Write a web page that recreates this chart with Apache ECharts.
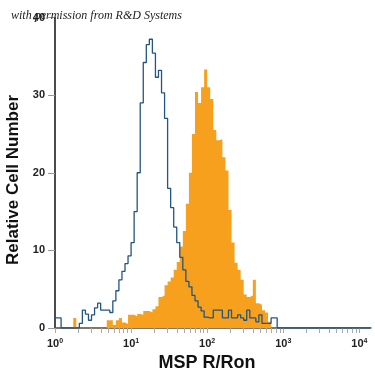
<!DOCTYPE html>
<html><head><meta charset="utf-8">
<script src="https://cdn.jsdelivr.net/npm/echarts@6/dist/echarts.min.js"></script>
<style>html,body{margin:0;padding:0;background:#fff}#c{width:375px;height:375px}</style>
</head><body><div id="c"></div>
<script>
// Histogram bins, width in decades of log10 intensity, starting at 10^0
const binWidth = 0.04;
// Isotype control (blue outline)
const isotypeCounts = [
 1.3,1.3,0,0,0,0,0,0,0.6,2.3,
 1.8,1.0,1.7,2.6,3.2,2.3,2.3,2.3,2.0,3.5,
 4.8,6.2,7.3,8.3,9.3,11,15,20,29,34.2,
 36.5,37.2,35.4,32.3,33.2,30.3,27,18,15.5,13,
 11,9.1,7.5,6,5.3,4.2,3.5,2.7,2.2,1.4,
 1.3,1.3,2.3,2.3,2.3,1.3,1.3,2.3,1.3,1.3,
 1.7,1.3,1.0,2.3,1.3,1.3,0.8,1.7,0.6,0.6,
 0.6,1.3,1.3,0,0,0,0,0,0,0,
 0,0,0,0,0,0,0,0,0,0,
 0,0,0,0,0,0,0,0,0,0,
 0,0,0,0
];
// MSP R/Ron stained (orange filled)
const stainedCounts = [
 0,0,0,0,0,0,1.3,0,0,0,
 0,0,0,0,0,0,0,1.0,1.0,0.4,
 1.0,1.3,0.7,0.5,1.7,1.7,1.5,1.8,1.7,2.2,
 2.2,2.0,2.4,2.8,4.0,4.2,5.5,6.0,6.5,7.5,
 8.5,10.5,12.5,16,20,25,30.4,29,31,33.3,
 31,29.5,25.5,24.2,24.3,22,20.3,15.2,11,8.4,
 7.5,6.2,4.3,4.0,4.2,6.2,3.2,3.0,2.3,2.0,
 0.8,0
];
const xTickExponents = [0,1,2,3,4];
const xMinorMultipliers = [2,3,4,5,6,7,8,9];
const yTickValues = [0,10,20,30,40];

function toSteps(counts){
  const pts = counts.map((v,i)=>[i*binWidth, v]);
  pts.push([counts.length*binWidth, counts[counts.length-1]]);
  return pts;
}
const tickVals = [];
xTickExponents.forEach(e=>{
  tickVals.push(e);
  if (e < 4) xMinorMultipliers.forEach(m=>tickVals.push(e+Math.log10(m)));
});

const chart = echarts.init(document.getElementById('c'), null, {renderer:'canvas'});
chart.setOption({
  animation:false,
  backgroundColor:'#fff',
  grid:{left:55, right:5, top:17.5, bottom:47, containLabel:false},
  xAxis:{
    type:'value', min:0, max:4.14,
    axisLine:{show:true, onZero:false, lineStyle:{color:'#5a4a3a', width:1.5}},
    axisTick:{show:true, length:5, customValues:tickVals, lineStyle:{color:'#aaa', width:1}},
    splitLine:{show:false},
    axisLabel:{
      customValues:xTickExponents, margin:10, color:'#222',
      fontFamily:'Liberation Sans', fontSize:11, fontWeight:'bold',
      formatter:(v)=>'10{s|'+Math.round(v)+'}',
      rich:{s:{fontSize:7, fontWeight:'bold', verticalAlign:'top', color:'#222', fontFamily:'Liberation Sans'}}
    }
  },
  yAxis:{
    type:'value', min:0, max:40, interval:10,
    axisLine:{show:true, lineStyle:{color:'#111', width:1.5}},
    axisTick:{show:true, length:7, lineStyle:{color:'#999', width:1}},
    splitLine:{show:false},
    axisLabel:{margin:10, color:'#222', fontFamily:'Liberation Sans', fontSize:11, fontWeight:'bold',
      customValues:yTickValues}
  },
  series:[
    {type:'line', step:'end', data:toSteps(stainedCounts), showSymbol:false, symbol:'none',
     lineStyle:{width:0, color:'#F6A01E'}, areaStyle:{color:'#F6A01E', opacity:1}, z:2},
    {type:'line', step:'end', data:toSteps(isotypeCounts), showSymbol:false, symbol:'none',
     lineStyle:{width:1.3, color:'#22557f'}, z:3}
  ],
  graphic:[
    {type:'text', x:11, y:16, z:100, style:{text:'with permission from R&D Systems',
      font:'italic 12px "Liberation Serif"', fill:'#222', verticalAlign:'middle', align:'left'}},
    {type:'text', x:207, y:363, z:100, style:{text:'MSP R/Ron',
      font:'bold 18px "Liberation Sans"', fill:'#111', verticalAlign:'middle', align:'center'}},
    {type:'text', x:13, y:180, rotation:Math.PI/2, z:100, style:{text:'Relative Cell Number',
      font:'bold 17px "Liberation Sans"', fill:'#111', verticalAlign:'middle', align:'center'}}
  ]
});
</script></body></html>
